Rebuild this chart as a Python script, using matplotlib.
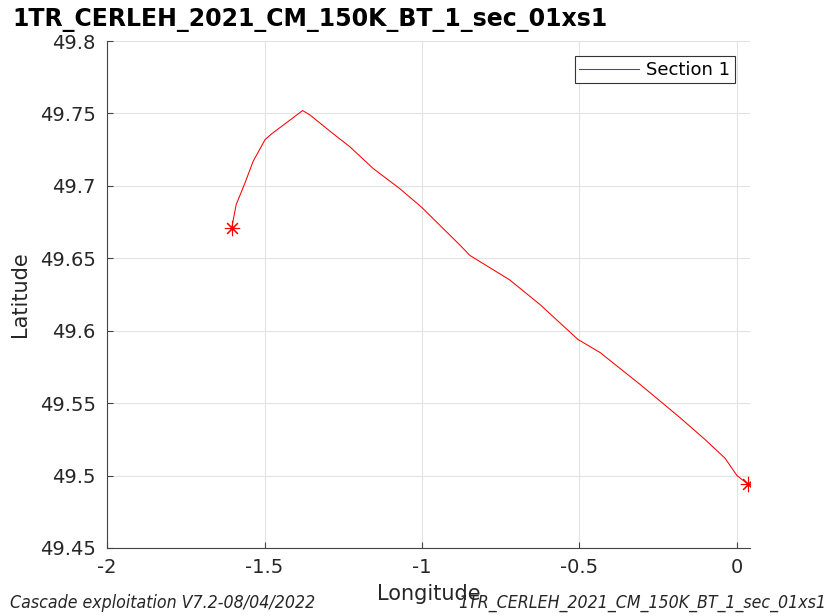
import matplotlib
matplotlib.use("Agg")
import matplotlib.pyplot as plt

plt.rcParams['font.family'] = ['DejaVu Sans']

title = "1TR_CERLEH_2021_CM_150K_BT_1_sec_01xs1"
footer_left = "Cascade exploitation V7.2-08/04/2022"
footer_right = "1TR_CERLEH_2021_CM_150K_BT_1_sec_01xs1"

# section track (longitude, latitude)
lon = [-1.604, -1.590, -1.562, -1.536, -1.498, -1.477, -1.440, -1.379,
       -1.356, -1.282, -1.229, -1.155, -1.070, -1.000, -0.879, -0.848,
       -0.721, -0.625, -0.505, -0.435, -0.308, -0.181, -0.102, -0.038,
       0.000, 0.035]
lat = [49.671, 49.687, 49.702, 49.717, 49.732, 49.736, 49.742, 49.752,
       49.749, 49.736, 49.727, 49.712, 49.698, 49.685, 49.659, 49.652,
       49.635, 49.618, 49.594, 49.585, 49.563, 49.540, 49.525, 49.512,
       49.500, 49.494]

xticks = [-2, -1.5, -1, -0.5, 0]
xticklabels = ["-2", "-1.5", "-1", "-0.5", "0"]
yticks = [49.45, 49.5, 49.55, 49.6, 49.65, 49.7, 49.75, 49.8]
yticklabels = ["49.45", "49.5", "49.55", "49.6", "49.65", "49.7", "49.75", "49.8"]

fig = plt.figure(figsize=(8.36, 6.16), dpi=100)
ax = fig.add_axes([0.128, 0.1104, 0.769, 0.823])

ax.plot(lon, lat, color='red', lw=0.75, label='Section 1')
# start / end of the section
ax.plot([lon[0], lon[-1]], [lat[0], lat[-1]], ls='none', marker=(8, 2, 0),
        ms=11, color='red', markeredgewidth=0.8)

ax.set_xlim(-2, 0.041)
ax.set_ylim(49.45, 49.8)
ax.set_xticks(xticks)
ax.set_xticklabels(xticklabels, fontsize=14)
ax.set_yticks(yticks)
ax.set_yticklabels(yticklabels, fontsize=14)
ax.tick_params(direction='in', length=4, color='#444444', labelcolor='#262626')
ax.tick_params(axis='x', pad=7)
ax.tick_params(axis='y', pad=8)
ax.grid(True, color='#e3e3e3', lw=0.8)
ax.set_axisbelow(True)
for side in ['top', 'right']:
    ax.spines[side].set_visible(False)
for side in ['left', 'bottom']:
    ax.spines[side].set_color('#444444')
    ax.spines[side].set_linewidth(0.8)

ax.set_xlabel("Longitude", fontsize=15, color='#262626', labelpad=5)
ax.set_ylabel("Latitude", fontsize=15, color='#262626', labelpad=7)

leg = ax.legend(loc='upper right', fontsize=13, fancybox=False,
                framealpha=1, edgecolor='#333333', handlelength=3.3,
                handletextpad=0.4, borderpad=0.25, borderaxespad=0.85)
leg.get_frame().set_linewidth(0.8)

fig.text(0.015, 0.958, title, fontsize=17, fontweight='bold',
         ha='left', va='baseline')
fig.text(0.012, 0.013, footer_left, fontsize=12.7, style='italic',
         ha='left', va='baseline', color='#262626', stretch='condensed')
fig.text(0.988, 0.013, footer_right, fontsize=12.7, style='italic',
         ha='right', va='baseline', color='#262626', stretch='condensed')

fig.savefig("out.png", dpi=100)
